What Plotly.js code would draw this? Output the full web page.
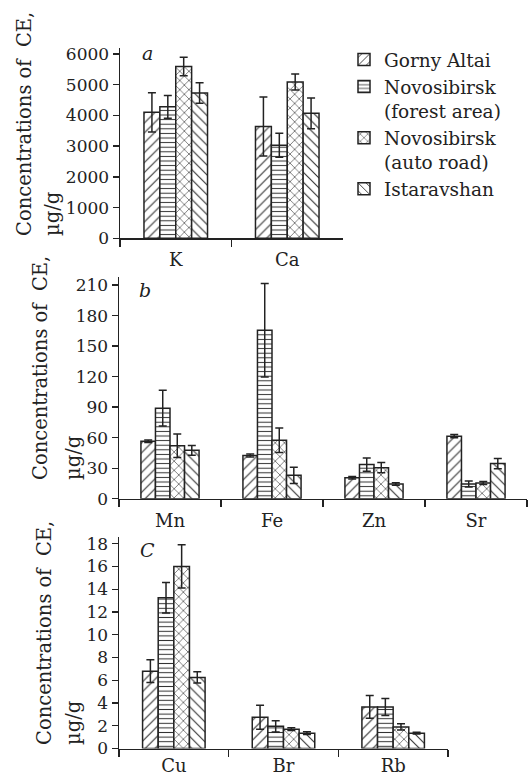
<!DOCTYPE html>
<html>
<head>
<meta charset="utf-8">
<script src="https://cdn.plot.ly/plotly-3.0.1.min.js"></script>
<style>html,body{margin:0;padding:0;background:#fff;}#chart{width:530px;height:781px;}</style>
</head>
<body>
<div id="chart"></div>
<script>
// ---- Data ----
const seriesNames = ["Gorny Altai", "Novosibirsk<br>(forest area)", "Novosibirsk<br>(auto road)", "Istaravshan"];

// Panel a
const catsA = ["K", "Ca"];
const aGorny = [4100, 3640];
const aForest = [4280, 3030];
const aRoad = [5590, 5090];
const aIstar = [4730, 4070];
const aGornyErr = [640, 960];
const aForestErr = [370, 390];
const aRoadErr = [300, 260];
const aIstarErr = [330, 500];

// Panel b
const catsB = ["Mn", "Fe", "Zn", "Sr"];
const bGorny = [56.5, 42.5, 20.5, 61.5];
const bForest = [89, 165.5, 33.5, 14.5];
const bRoad = [52, 57.5, 30.5, 15.5];
const bIstar = [47.5, 23, 14.5, 34.5];
const bGornyErr = [1.2, 1.5, 1.2, 1.5];
const bForestErr = [17.5, 46, 6.5, 3];
const bRoadErr = [11.5, 12, 5, 1.5];
const bIstarErr = [4.7, 8, 1.2, 5];

// Panel c
const catsC = ["Cu", "Br", "Rb"];
const cGorny = [6.8, 2.75, 3.65];
const cForest = [13.25, 1.95, 3.65];
const cRoad = [16, 1.7, 1.9];
const cIstar = [6.25, 1.35, 1.35];
const cGornyErr = [1.0, 1.05, 1.0];
const cForestErr = [1.35, 0.5, 0.75];
const cRoadErr = [1.9, 0.12, 0.27];
const cIstarErr = [0.5, 0.12, 0.08];

const yTicksA = [0, 1000, 2000, 3000, 4000, 5000, 6000];
const yTicksB = [0, 30, 60, 90, 120, 150, 180, 210];
const yTicksC = [0, 2, 4, 6, 8, 10, 12, 14, 16, 18];

// ---- Styles ----
const ink = "#222";
const FONT = "DejaVu Serif, Liberation Serif, serif";
const patterns = [
  {shape: "/", size: 7, solidity: 0.16},
  {shape: "-", size: 4.6, solidity: 0.22},
  {shape: "x", size: 6.5, solidity: 0.18},
  {shape: "\\", size: 7, solidity: 0.16}
];

const panels = [
  {cats: catsA, vals: [aGorny, aForest, aRoad, aIstar], errs: [aGornyErr, aForestErr, aRoadErr, aIstarErr], xa: "x", ya: "y"},
  {cats: catsB, vals: [bGorny, bForest, bRoad, bIstar], errs: [bGornyErr, bForestErr, bRoadErr, bIstarErr], xa: "x2", ya: "y2"},
  {cats: catsC, vals: [cGorny, cForest, cRoad, cIstar], errs: [cGornyErr, cForestErr, cRoadErr, cIstarErr], xa: "x3", ya: "y3"}
];

const traces = [];
panels.forEach((p, pi) => {
  for (let s = 0; s < 4; s++) {
    traces.push({
      type: "bar",
      x: p.cats,
      y: p.vals[s],
      name: seriesNames[s],
      legendgroup: "g" + s,
      showlegend: pi === 0,
      xaxis: p.xa,
      yaxis: p.ya,
      marker: {
        color: "white",
        line: {color: ink, width: 1.5},
        pattern: Object.assign({fgcolor: "#333", bgcolor: "white", fillmode: "replace"}, patterns[s])
      },
      error_y: {type: "data", array: p.errs[s], visible: true, color: ink, thickness: 1.5, width: 4},
      hoverinfo: "skip"
    });
  }
});

const W = 530, H = 781;
const px = v => v / W;
const py = v => (H - v) / H;

function xAxis(d0, d1, anchor, standoff) {
  return {
    domain: [px(d0), px(d1)], anchor: anchor, type: "category",
    showline: true, linecolor: ink, linewidth: 1.5,
    ticks: "outside", tickson: "boundaries", ticklen: 7, tickwidth: 1.3, tickcolor: ink,
    ticklabelstandoff: standoff,
    showgrid: false, zeroline: false, fixedrange: true,
    tickfont: {family: FONT, size: 18, color: ink}
  };
}
function yAxis(top, bottom, range, ticks, anchor) {
  return {
    domain: [py(bottom), py(top)], anchor: anchor, range: range,
    tickvals: ticks, ticktext: ticks.map(String),
    showline: true, linecolor: ink, linewidth: 1.5,
    ticks: "outside", ticklen: 6, tickwidth: 1.3, tickcolor: ink,
    showgrid: false, zeroline: false, fixedrange: true,
    tickfont: {family: FONT, size: 17, color: ink}
  };
}

const titleFont = {family: FONT, size: 19.5, color: ink};
function vtext(text, xc, ybottom) {
  return {text: text, xref: "paper", yref: "paper", x: px(xc), y: py(ybottom),
    xanchor: "center", yanchor: "bottom", textangle: -90, showarrow: false, font: titleFont};
}
function letter(text, xc, yc) {
  return {text: "<i>" + text + "</i>", xref: "paper", yref: "paper", x: px(xc), y: py(yc),
    xanchor: "center", yanchor: "middle", showarrow: false, font: {family: FONT, size: 19, color: ink}};
}

const layout = {
  width: W, height: H,
  margin: {l: 0, r: 0, t: 0, b: 0},
  paper_bgcolor: "white", plot_bgcolor: "white",
  barmode: "group", bargap: 0.43, bargroupgap: 0,
  font: {family: FONT, color: ink},
  xaxis: xAxis(120, 343, "y", 5),
  yaxis: yAxis(48.3, 238.3, [0, 6185], yTicksA, "x"),
  xaxis2: xAxis(119, 527, "y2", 5),
  yaxis2: yAxis(277.3, 498.7, [0, 217.6], yTicksB, "x2"),
  xaxis3: xAxis(119, 448, "y3", 0),
  yaxis3: yAxis(537, 748.5, [0, 18.59], yTicksC, "x3"),
  showlegend: true,
  legend: {
    x: px(344), y: py(41), xanchor: "left", yanchor: "top",
    font: {family: FONT, size: 18.5, color: ink},
    valign: "top", tracegroupgap: 8, bgcolor: "rgba(0,0,0,0)",
    traceorder: "normal"
  },
  annotations: [
    vtext("Concentrations of\u00a0 CE,", 24, 238),
    vtext("\u00b5g/g", 52, 238),
    vtext("Concentrations of\u00a0 CE,", 40, 482),
    vtext("\u00b5g/g", 73, 482),
    vtext("Concentrations of\u00a0 CE,", 44, 747),
    vtext("\u00b5g/g", 73, 747),
    letter("a", 147, 53),
    letter("b", 145, 290),
    letter("C", 147, 550)
  ]
};

Plotly.newPlot("chart", traces, layout, {displayModeBar: false, staticPlot: true});
</script>
</body>
</html>
